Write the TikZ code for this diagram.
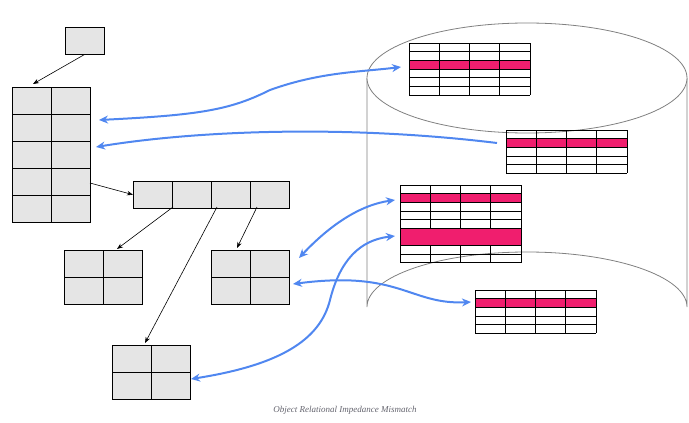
\documentclass[tikz,border=0pt]{standalone}
\usepackage{fontspec}
\setmainfont{Liberation Serif}
\usetikzlibrary{arrows.meta}
\begin{document}
\begin{tikzpicture}[x=1pt,y=-1pt,
  cell/.style={draw=black,fill=gray!20,line width=0.8pt},
  fk/.style={-{Stealth[length=6pt]},line width=0.6pt},
  blue/.style={draw={rgb,255:red,80;green,135;blue,240},line width=2pt,{Stealth[length=9pt,width=8pt]}-{Stealth[length=9pt,width=8pt]}},
  pinkrow/.style={fill={rgb,255:red,240;green,30;blue,110}},
  tbl/.style={draw=black,line width=0.8pt}]
\useasboundingbox (0,0) rectangle (689,423);
% cylinder
\draw[gray,line width=0.8pt] (367,78) -- (367,307) arc[start angle=180,end angle=360,x radius=160,y radius=55] -- (687,78);
\draw[gray,line width=0.8pt,fill=white] (527,78) ellipse[x radius=160,y radius=55];
% table macro: x y width rowheight nrows
\newcommand{\dbtbl}[6]{% name, x, y, nrows, pink spec
  \node[inner sep=0,minimum width=121pt,minimum height=#4*8.65pt,anchor=north west] (#1) at (#2,#3) {};
  \foreach \r in {#5} {\fill[pinkrow] (#2,#3+\r*8.65) rectangle (#2+121,#3+\r*8.65+8.65);}
  #6
  \foreach \i in {0,...,#4} {\draw[tbl] (#2,#3+\i*8.65) -- (#2+121,#3+\i*8.65);}
  \foreach \j in {0,1,2,3,4} {\draw[tbl] (#2+\j*30.25,#3) -- (#2+\j*30.25,#3+#4*8.65);}
}
\dbtbl{t1}{409}{43}{6}{2}{}
\dbtbl{t2}{506}{130}{5}{1}{}
\dbtbl{t3}{400}{185}{9}{1,5,6}{\fill[pinkrow] (400,185+5*8.65) rectangle (521,185+7*8.65);}
\fill[pinkrow] (400,185+5*8.65) rectangle (521,185+7*8.65);
\draw[tbl] (400,185+5*8.65) rectangle (521,185+7*8.65);
\dbtbl{t4}{475}{290}{5}{1}{}
% left objects
\newcommand{\grid}[5]{% name x y cols rows
  \node[inner sep=0,minimum width=#4*39pt,minimum height=#5*27pt,anchor=north west] (#1) at (#2,#3) {};
  \foreach \a in {1,...,#4} {\foreach \b in {1,...,#5} {
    \draw[cell] (#2+\a*39-39,#3+\b*27-27) rectangle (#2+\a*39,#3+\b*27);}}
}
\grid{s}{65}{27}{1}{1}
\grid{big}{12}{87}{2}{5}
\grid{h}{133}{181}{4}{1}
\grid{a}{64}{250}{2}{2}
\grid{b}{211}{250}{2}{2}
\grid{c}{112}{345}{2}{2}
\coordinate (h1) at (173,207);
\coordinate (h2) at (217,207);
\coordinate (h3) at (257,207);
\draw[fk] (s.south) -- (33,84);
\draw[fk] (90,183) -- (h.west);
\draw[fk] (h1) -- (117,249);
\draw[fk] (h3) -- (237,248);
\draw[fk] (h2) -- (145,343);
% blue connectors
\coordinate (t1a) at (401,67);
\coordinate (t2a) at (497,143);
\coordinate (t3a) at (395,200);
\coordinate (t3b) at (395,236);
\coordinate (t4a) at (471,302);
\coordinate (bigA) at (99,120);
\coordinate (bigB) at (96,147);
\coordinate (bA) at (299,258);
\coordinate (bB) at (293,284);
\coordinate (cA) at (191,379);
\draw[blue] (bigA) .. controls (200,115) and (230,110) .. (270,90) .. controls (320,72) and (360,72) .. (t1a);
\draw[blue,{Stealth[length=0pt]}-{Stealth[length=0pt]},-{Stealth[length=9pt,width=8pt]}] (t2a) .. controls (350,125) and (200,130) .. (bigB);
\draw[blue] (bA) .. controls (330,225) and (360,205) .. (t3a);
\draw[blue] (bB) .. controls (400,270) and (410,305) .. (t4a);
\draw[blue] (cA) .. controls (280,365) and (320,340) .. (330,300) .. controls (340,260) and (360,240) .. (t3b);
\node[font=\itshape\small,text={rgb,255:red,100;green,100;blue,110}] (cap) at (345,410) {Object Relational Impedance Mismatch};
\end{tikzpicture}
\end{document}
